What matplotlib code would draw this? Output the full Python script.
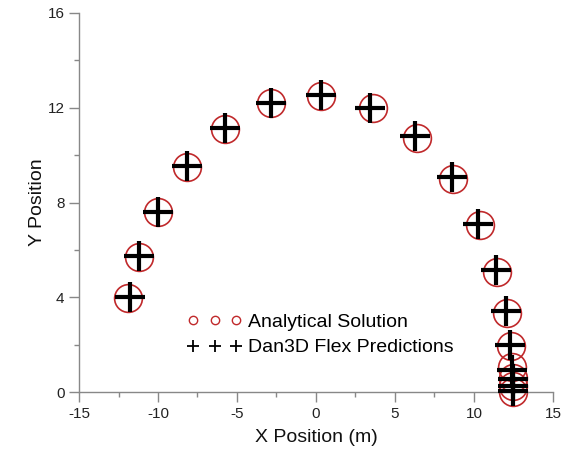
import matplotlib
matplotlib.use('Agg')
import matplotlib.pyplot as plt
from matplotlib.lines import Line2D
from matplotlib.ticker import MultipleLocator

plt.rcParams['font.family'] = ['Liberation Sans', 'DejaVu Sans']
plt.rcParams['axes.unicode_minus'] = False

# analytical solution (red circles)
ana_x = [-11.9, -11.2, -10.0, -8.15, -5.76, -2.87, 0.32, 3.63, 6.41, 8.69,
         10.38, 11.43, 12.07, 12.34, 12.42, 12.45, 12.47, 12.48]
ana_y = [3.98, 5.72, 7.58, 9.5, 11.1, 12.2, 12.5, 11.97, 10.71, 9.0,
         7.03, 5.07, 3.33, 1.94, 1.05, 0.59, 0.25, 0.0]

# Dan3D Flex predictions (black crosses)
dan_x = [-11.77, -11.19, -9.98, -8.15, -5.76, -2.87, 0.32, 3.42, 6.28, 8.59,
         10.27, 11.37, 12.05, 12.28, 12.38, 12.45, 12.45, 12.47]
dan_y = [4.0, 5.73, 7.62, 9.52, 11.13, 12.2, 12.53, 12.01, 10.81, 9.09,
         7.10, 5.17, 3.42, 1.98, 0.93, 0.55, 0.25, 0.05]

fig = plt.figure(figsize=(5.67, 4.49), dpi=100)
ax = fig.add_axes([79 / 567, 57 / 449, 474 / 567, 379 / 449])

ax.plot(ana_x, ana_y, 'o', ms=20, mfc='none', mec='#c0292b', mew=1.2,
        zorder=2, clip_on=False)
ax.plot(dan_x, dan_y, '+', ms=22, mec='black', mew=3, zorder=3, clip_on=False)

ax.set_xlim(-15, 15)
ax.set_ylim(0, 16)
ax.xaxis.set_major_locator(MultipleLocator(5))
ax.xaxis.set_minor_locator(MultipleLocator(2.5))
ax.yaxis.set_major_locator(MultipleLocator(4))
ax.yaxis.set_minor_locator(MultipleLocator(2))

for s in ['top', 'right']:
    ax.spines[s].set_visible(False)
for s in ['left', 'bottom']:
    ax.spines[s].set_color('#888888')
    ax.spines[s].set_linewidth(1)
ax.tick_params(which='major', direction='out', length=7, width=1, color='#888888',
               labelsize=11, labelcolor='#222222')
ax.tick_params(which='minor', direction='out', length=3.5, width=1, color='#888888')

ax.set_xlabel('X Position (m)', fontsize=14, color='#111111', labelpad=6)
ax.set_ylabel('Y Position', fontsize=14, color='#111111', labelpad=1)

handles = [
    Line2D([], [], ls='none', marker='o', ms=6, mfc='none', mec='#c0292b', mew=1),
    Line2D([], [], ls='none', marker='+', ms=8, mec='black', mew=1.3),
]
ax.legend(handles, ['Analytical Solution', 'Dan3D Flex Predictions'],
          numpoints=3, handlelength=2.8, handletextpad=0.3, labelspacing=0.4,
          frameon=False, fontsize=14, loc='center left',
          bbox_to_anchor=(170 / 567, 1 - 335 / 449), bbox_transform=fig.transFigure)

fig.savefig('out.png', dpi=100)
